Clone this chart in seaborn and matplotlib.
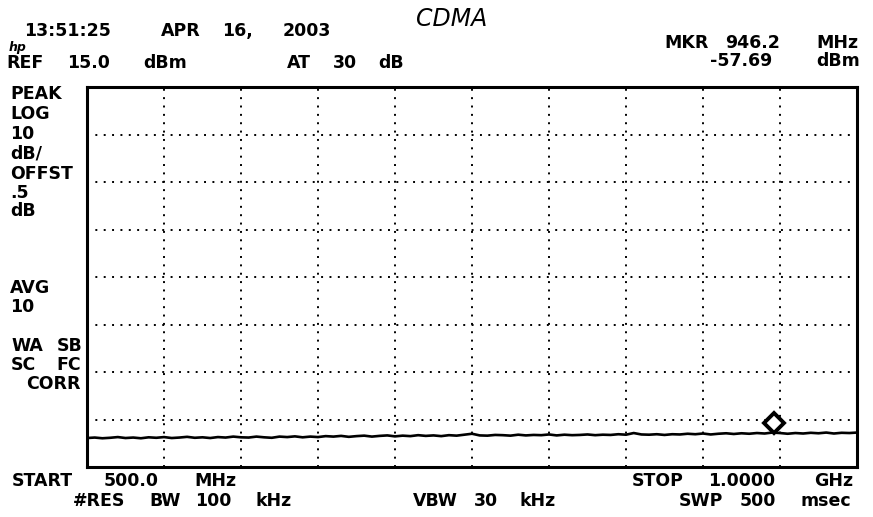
import numpy as np
import matplotlib
matplotlib.use("Agg")
import matplotlib.pyplot as plt
import matplotlib.transforms as mtransforms
import seaborn as sns

# ---------------- data ----------------
freq_start_mhz = 500.0
freq_stop_mhz = 1000.0
ref_level_dbm = 15.0
db_per_div = 10
n_ydiv = 8
n_xdiv = 10

trace_freq_mhz = [500 + 5 * i for i in range(101)]
trace_dbm = [
    -58.90, -58.80, -58.95, -58.85, -58.70, -58.90, -58.80, -58.95, -58.75, -58.85,
    -58.70, -58.90, -58.80, -58.65, -58.85, -58.75, -58.90, -58.70, -58.80, -58.60,
    -58.75, -58.80, -58.60, -58.75, -58.85, -58.60, -58.70, -58.55, -58.75, -58.60,
    -58.70, -58.50, -58.60, -58.45, -58.65, -58.50, -58.40, -58.60, -58.45, -58.35,
    -58.55, -58.40, -58.50, -58.30, -58.45, -58.35, -58.50, -58.30, -58.40, -58.20,
    -58.00, -58.35, -58.40, -58.25, -58.30, -58.40, -58.20, -58.35, -58.25, -58.30,
    -58.15, -58.35, -58.20, -58.30, -58.25, -58.15, -58.30, -58.20, -58.25, -58.10,
    -58.20, -57.85, -58.15, -58.20, -58.10, -58.25, -58.10, -58.15, -58.00, -58.10,
    -57.95, -58.15, -58.00, -57.90, -58.05, -57.90, -58.00, -57.85, -57.95, -57.75,
    -57.85, -58.00, -57.85, -57.95, -57.80, -57.90, -57.75, -57.95, -57.80, -57.85,
    -57.75,
]
marker_freq_mhz = 946.2
marker_dbm = -57.69

header_time = "13:51:25 APR 16, 2003"
note_text = "CDMA"
ref_text = "REF 15.0 dBm"
atten_text = "AT 30 dB"
mkr_freq_text = "MKR 946.2 MHz"
mkr_level_text = "-57.69 dBm"
side_labels = ["PEAK", "LOG", "10", "dB/", "OFFST", ".5", "dB"]
side_labels2 = ["AVG", "10"]
side_labels3 = ["WA SB", "SC FC", " CORR"]
start_text = "START 500.0 MHz"
rbw_text = "#RES BW 100 kHz"
vbw_text = "VBW 30 kHz"
stop_text = "STOP 1.0000 GHz"
swp_text = "SWP 500 msec"

# ---------------- figure ----------------
sns.set_theme(style="white")
plt.rcParams["font.family"] = ["DejaVu Sans"]

W, H = 873, 517
fig = plt.figure(figsize=(W / 100, H / 100), dpi=100)
fig.patch.set_facecolor("white")
ax = fig.add_axes([87 / W, 1 - 467 / H, 770 / W, 380 / H])
ax.set_facecolor("white")

bottom = ref_level_dbm - n_ydiv * db_per_div
ax.set_xlim(freq_start_mhz, freq_stop_mhz)
ax.set_ylim(bottom, ref_level_dbm)

xstep = (freq_stop_mhz - freq_start_mhz) / n_xdiv
ax.set_xticks([freq_start_mhz + xstep * k for k in range(1, n_xdiv)])
ax.set_yticks([bottom + db_per_div * k for k in range(1, n_ydiv)])
ax.tick_params(length=0, labelbottom=False, labelleft=False)
ax.grid(True, color="black", linestyle=(0, (1, 3.3)), linewidth=1.4)

for sp in ax.spines.values():
    sp.set_color("black")
    sp.set_linewidth(2.2)
    sp.set_visible(True)

sns.lineplot(x=trace_freq_mhz, y=trace_dbm, ax=ax, color="black", linewidth=1.9)

mk_tr = mtransforms.offset_copy(ax.transData, fig=fig, x=0, y=9, units="dots")
ax.plot([marker_freq_mhz], [marker_dbm], marker="D", markersize=10.5,
        markerfacecolor="white", markeredgecolor="black", markeredgewidth=2.8,
        transform=mk_tr, zorder=5, linestyle="none")
ax.set_xlabel("")
ax.set_ylabel("")

# ---------------- text ----------------
PITCH = 15.2
FS = 12.5


def put(s, x, y, pitch=PITCH, right=False, **kw):
    """Place a line of instrument text word by word on a fixed character pitch."""
    n = len(s)
    if right:
        x = x - ((n - 1) * pitch + 11)
    idx = 0
    for word in s.split(" "):
        if word:
            fig.text((x + idx * pitch) / W, 1 - y / H, word, ha="left", va="center",
                     fontsize=FS, fontweight="bold", color="black", **kw)
        idx += len(word) + 1


put(header_time, 24, 31)
fig.text(416 / W, 1 - 19 / H, note_text, ha="left", va="center", fontsize=17,
         fontstyle="italic", color="black")
fig.text(9 / W, 1 - 47 / H, "hp", ha="left", va="center", fontsize=9,
         fontstyle="italic", fontweight="bold", color="black")
put(ref_text, 6, 63)
put(atten_text, 287, 63)
put(mkr_freq_text, 858, 43, right=True)
put(mkr_level_text, 858, 61, right=True)

side_y = [94, 114, 134, 154, 174, 193, 211]
for lab, yy in zip(side_labels, side_y):
    put(lab, 10, yy)
for lab, yy in zip(side_labels2, [288, 307]):
    put(lab, 10, yy)
for lab, yy in zip(side_labels3, [346, 365, 384]):
    put(lab, 11, yy)

put(start_text, 12, 481)
put(rbw_text, 73, 501)
put(vbw_text, 413, 501)
put(stop_text, 856, 481, right=True)
put(swp_text, 857, 501, right=True)

fig.savefig("out.png", dpi=100, facecolor="white")
